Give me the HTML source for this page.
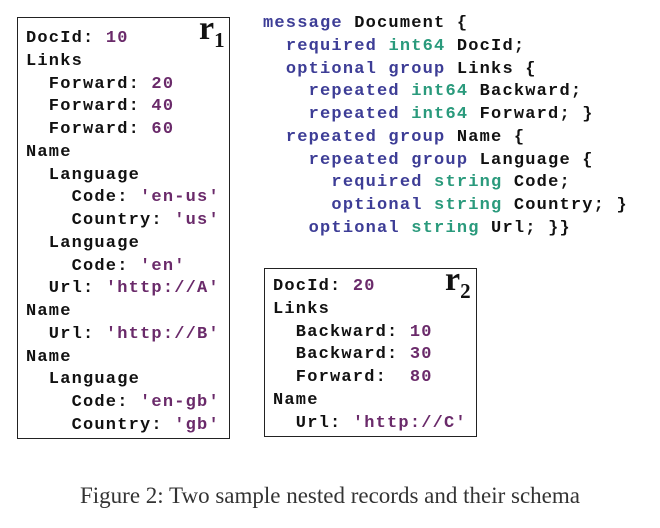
<!DOCTYPE html>
<html><head><meta charset="utf-8"><style>
body{margin:0;width:660px;height:528px;background:#fff;position:relative;overflow:hidden;font-family:"Liberation Mono",monospace;}
pre{margin:0;position:absolute;font-family:"Liberation Mono",monospace;font-weight:bold;font-size:17px;letter-spacing:1.2px;line-height:22.75px;color:#111;}
.k{color:#3d3d96}.t{color:#2a9a7c}.v{color:#6a2a6a}
.box{position:absolute;border:1.5px solid #222;}
.r{position:absolute;font-family:"Liberation Serif",serif;font-size:34px;font-weight:bold;color:#111;}
.r sub{font-size:21px;vertical-align:-8px}
.cap{position:absolute;left:0;width:660px;top:483px;text-align:center;font-family:"Liberation Serif",serif;font-size:23px;color:#333;}
</style></head><body>
<div class="box" style="left:17px;top:17px;width:211px;height:420px"></div>
<div class="box" style="left:264px;top:268px;width:211px;height:167px"></div>
<div class="r" style="left:199px;top:10px">r<sub>1</sub></div>
<div class="r" style="left:445px;top:261px">r<sub>2</sub></div>
<pre style="left:26px;top:28px">DocId: <span class="v">10</span>
Links
  Forward: <span class="v">20</span>
  Forward: <span class="v">40</span>
  Forward: <span class="v">60</span>
Name
  Language
    Code: <span class="v">'en-us'</span>
    Country: <span class="v">'us'</span>
  Language
    Code: <span class="v">'en'</span>
  Url: <span class="v">'http://A'</span>
Name
  Url: <span class="v">'http://B'</span>
Name
  Language
    Code: <span class="v">'en-gb'</span>
    Country: <span class="v">'gb'</span></pre>
<pre style="left:263px;top:13px"><span class="k">message</span> Document {
  <span class="k">required</span> <span class="t">int64</span> DocId;
  <span class="k">optional group</span> Links {
    <span class="k">repeated</span> <span class="t">int64</span> Backward;
    <span class="k">repeated</span> <span class="t">int64</span> Forward; }
  <span class="k">repeated group</span> Name {
    <span class="k">repeated group</span> Language {
      <span class="k">required</span> <span class="t">string</span> Code;
      <span class="k">optional</span> <span class="t">string</span> Country; }
    <span class="k">optional</span> <span class="t">string</span> Url; }}</pre>
<pre style="left:273px;top:276px">DocId: <span class="v">20</span>
Links
  Backward: <span class="v">10</span>
  Backward: <span class="v">30</span>
  Forward:  <span class="v">80</span>
Name
  Url: <span class="v">'http://C'</span></pre>
<div class="cap">Figure 2: Two sample nested records and their schema</div>
</body></html>
